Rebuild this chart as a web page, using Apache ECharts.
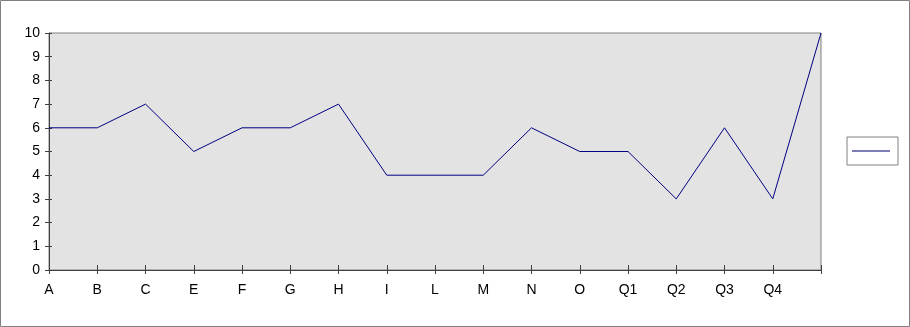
<!DOCTYPE html>
<html><head><meta charset="utf-8">
<script src="https://cdn.jsdelivr.net/npm/echarts@6/dist/echarts.min.js"></script>
<style>html,body{margin:0;padding:0;background:#fff}#c{width:910px;height:327px}</style>
</head><body><div id="c"></div>
<script>
const categories = ['A','B','C','E','F','G','H','I','L','M','N','O','Q1','Q2','Q3','Q4',''];
const values = [6,6,7,5,6,6,7,4,4,4,6,5,5,3,6,3,10];
const yTicks = [0,1,2,3,4,5,6,7,8,9,10];

const chart = echarts.init(document.getElementById('c'), null, {renderer:'canvas'});
const font = 'Liberation Sans, Arial, sans-serif';
chart.setOption({
  animation:false,
  graphic:[{type:'rect', shape:{x:0.5,y:0.5,width:909,height:326}, style:{fill:'none',stroke:'#808080',lineWidth:1}, silent:true}],
  grid:{left:49, top:33, right:89, bottom:57, show:true, backgroundColor:'#e3e3e3', borderColor:'#808080', borderWidth:1},
  legend:{show:true, left:847, top:137, orient:'horizontal', borderColor:'#808080', borderWidth:1,
    padding:[13,8,13,5], itemWidth:38, itemHeight:2, icon:'rect', formatter:function(){return '';},
    textStyle:{fontSize:1}, data:[{name:'s', itemStyle:{color:'#7d7db5'}}]},
  xAxis:[{type:'category', data:categories, boundaryGap:false,
    axisLine:{lineStyle:{color:'#404040',width:1}},
    axisTick:{show:true, inside:false, length:4, lineStyle:{color:'#404040'}},
    axisLabel:{color:'#000', fontFamily:font, fontSize:14, margin:13, interval:0},
    splitLine:{show:false}},
   {type:'category', data:categories, boundaryGap:false, position:'bottom',
    axisLine:{show:false}, axisTick:{show:true, inside:true, length:5, lineStyle:{color:'#404040'}},
    axisLabel:{show:false}, splitLine:{show:false}}],
  yAxis:[{type:'value', min:0, max:10, interval:1,
    axisLine:{show:true, lineStyle:{color:'#404040',width:1}},
    axisTick:{show:true, inside:false, length:4, lineStyle:{color:'#404040'}},
    axisLabel:{color:'#000', fontFamily:font, fontSize:14, margin:9,
      formatter:function(v){return yTicks.indexOf(v)>=0? String(v):'';}},
    splitLine:{show:false}},
   {type:'value', min:0, max:10, interval:1, position:'left',
    axisLine:{show:false}, axisTick:{show:true, inside:true, length:3, lineStyle:{color:'#404040'}},
    axisLabel:{show:false}, splitLine:{show:false}}],
  series:[{name:'s', type:'line', data:values, showSymbol:false, symbol:'none',
    lineStyle:{color:'#000080', width:1}, itemStyle:{color:'#000080'}}]
});
</script></body></html>
